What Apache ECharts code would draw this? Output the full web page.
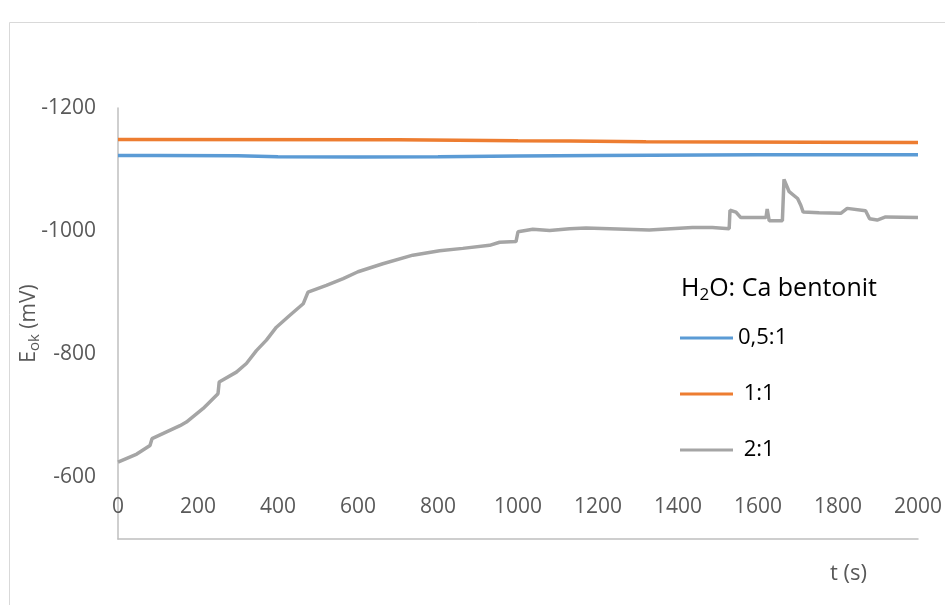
<!DOCTYPE html>
<html>
<head>
<meta charset="utf-8">
<script src="https://cdn.jsdelivr.net/npm/echarts@6/dist/echarts.min.js"></script>
<style>html,body{margin:0;padding:0;background:#fff;}#c{width:945px;height:605px;}</style>
</head>
<body>
<div id="c"></div>
<script>
// ---- data ----
var seriesNames = ['0,5:1', ' 1:1', ' 2:1'];
var blueT = [0, 100, 300, 400, 600, 800, 1000, 1200, 1600, 2000];
var blueV = [-1123, -1123, -1122.5, -1121, -1120.5, -1121, -1122, -1123, -1124, -1124];
var orangeT = [0, 700, 1000, 1130, 1320, 1730, 2000];
var orangeV = [-1149, -1148.5, -1147, -1146.5, -1145, -1144.5, -1144];
var grayT = [0,47,80,85,155,171,213,250,253,296,321,346,371,396,429,463,475,521,563,600,662,737,804,862,929,954,995,1000,1037,1079,1129,1170,1328,1436,1486,1528,1530,1545,1557,1620,1623,1626,1628,1661,1665,1678,1699,1707,1713,1753,1807,1823,1869,1879,1898,1919,2000];
var grayV = [-625,-638,-652,-663,-684,-690,-712,-736,-755,-771,-785,-806,-823,-844,-863,-882,-901,-912,-923,-934,-947,-961,-968,-972,-977,-982,-983,-999,-1003,-1001,-1004,-1005,-1002,-1006,-1006,-1004,-1034,-1031,-1022,-1022,-1036,-1036,-1017,-1017,-1084,-1064,-1053,-1042,-1031,-1030,-1029,-1037,-1033,-1020,-1018,-1023,-1022];
var xTicks = {min: 0, max: 2000, interval: 200};
var yTicks = {min: -1200, max: -500, interval: 200};

function pairs(t, v) { return t.map(function (x, i) { return [x, v[i]]; }); }

var FONT = 'Open Sans';
var chart = echarts.init(document.getElementById('c'), null, {renderer: 'canvas'});
chart.setOption({
  animation: false,
  backgroundColor: '#ffffff',
  textStyle: {fontFamily: FONT},
  grid: {left: 118, right: 26, top: 108, bottom: 66},
  xAxis: {
    type: 'value', min: xTicks.min, max: xTicks.max, interval: xTicks.interval,
    axisLine: {show: true, lineStyle: {color: '#bfbfbf', width: 1.5}},
    axisTick: {show: false},
    splitLine: {show: false},
    axisLabel: {inside: true, margin: 21, color: '#595959', fontSize: 21, fontFamily: FONT,
      formatter: function (v) { return String(v); }}
  },
  yAxis: {
    type: 'value', inverse: true, min: yTicks.min, max: yTicks.max, interval: yTicks.interval,
    axisLine: {show: true, lineStyle: {color: '#bfbfbf', width: 1.5}},
    axisTick: {show: false},
    splitLine: {show: false},
    axisLabel: {margin: 22, color: '#595959', fontSize: 21, fontFamily: FONT,
      formatter: function (v) { return v === -500 ? '' : String(v); }},
    name: 'E{sub|ok} (mV)',
    nameLocation: 'middle',
    nameRotate: 90,
    nameGap: 76,
    nameMoveOverlap: false,
    nameTextStyle: {
      color: '#595959', fontSize: 21, fontFamily: FONT,
      rich: {sub: {fontSize: 15, color: '#595959', fontFamily: FONT, padding: [10, 0, 0, 0]}}
    }
  },
  legend: {
    orient: 'vertical', left: 680, top: 327, padding: 0,
    itemWidth: 53, itemHeight: 3, itemGap: 34,
    icon: 'rect', selectedMode: false,
    textStyle: {color: '#000000', fontSize: 22, fontFamily: FONT},
    data: seriesNames
  },
  graphic: [
    {type: 'rect', shape: {x: 9.5, y: 22.5, width: 1000, height: 1000},
     style: {fill: 'none', stroke: '#d9d9d9', lineWidth: 1}, silent: true},
    {type: 'text', left: 681, top: 276,
     style: {text: 'H{sub|2}O: Ca bentonit', fill: '#000000', fontSize: 25, fontFamily: FONT,
       rich: {sub: {fontSize: 17, fill: '#000000', fontFamily: FONT, padding: [13, 0, 0, 0]}}}},
    {type: 'text', left: 830, top: 563,
     style: {text: 't (s)', fill: '#595959', fontSize: 22, fontFamily: FONT}}
  ],
  series: [
    {name: seriesNames[0], type: 'line', showSymbol: false, symbol: 'none',
     lineStyle: {width: 3.5, color: '#5b9bd5'}, itemStyle: {color: '#5b9bd5'},
     data: pairs(blueT, blueV)},
    {name: seriesNames[1], type: 'line', showSymbol: false, symbol: 'none',
     lineStyle: {width: 3.5, color: '#ed7d31'}, itemStyle: {color: '#ed7d31'},
     data: pairs(orangeT, orangeV)},
    {name: seriesNames[2], type: 'line', showSymbol: false, symbol: 'none',
     lineStyle: {width: 3.5, color: '#a5a5a5'}, itemStyle: {color: '#a5a5a5'},
     data: pairs(grayT, grayV)}
  ]
});
</script>
</body>
</html>
